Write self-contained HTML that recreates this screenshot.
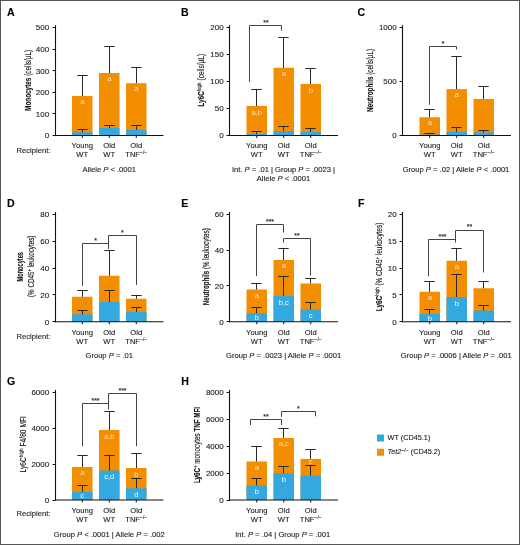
<!DOCTYPE html>
<html><head><meta charset="utf-8"><style>
html,body{margin:0;padding:0;background:#fff;}
body{width:520px;height:545px;overflow:hidden;}
.frame{position:absolute;left:0;top:0;width:518px;height:543px;border:1px solid #555;}
svg text{stroke-width:0.12px;}
svg{position:absolute;left:0;top:0;font-family:"Liberation Sans", sans-serif;will-change:transform;}
</style></head><body>
<div class="frame"></div>
<svg width="520" height="545" viewBox="0 0 520 545">
<text x="7" y="15.9" font-size="10.6" text-anchor="start" fill="#000" stroke="#000" font-weight="bold"  >A</text>
<rect x="72" y="96" width="20.5" height="39.5" fill="#F28E00"/>
<rect x="72" y="132.3" width="20.5" height="3.1999999999999886" fill="#33A9E0"/>
<line x1="82.5" y1="75.5" x2="82.5" y2="96" stroke="#2a2a2a" stroke-width="1"/>
<line x1="77.3" y1="75.5" x2="87.7" y2="75.5" stroke="#2a2a2a" stroke-width="1"/>
<line x1="82.5" y1="129.5" x2="82.5" y2="132.3" stroke="#2a2a2a" stroke-width="1"/>
<line x1="77.3" y1="129.5" x2="87.7" y2="129.5" stroke="#2a2a2a" stroke-width="1"/>
<text x="82.25" y="104.2" font-size="7.6" text-anchor="middle" fill="#fde2b4" stroke="#fde2b4" font-weight="normal"  style="stroke-width:0">a</text>
<line x1="82.25" y1="135.5" x2="82.25" y2="138.0" stroke="#111111" stroke-width="1"/>
<text x="82.25" y="148.1" font-size="7.6" text-anchor="middle" fill="#222" stroke="#222" font-weight="normal"  >Young</text>
<text x="82.25" y="157.25" font-size="7.6" text-anchor="middle" fill="#222" stroke="#222" font-weight="normal"  >WT</text>
<rect x="99" y="73" width="20.5" height="62.5" fill="#F28E00"/>
<rect x="99" y="128" width="20.5" height="7.5" fill="#33A9E0"/>
<line x1="109.5" y1="46.5" x2="109.5" y2="73" stroke="#2a2a2a" stroke-width="1"/>
<line x1="104.3" y1="46.5" x2="114.7" y2="46.5" stroke="#2a2a2a" stroke-width="1"/>
<line x1="109.5" y1="125.5" x2="109.5" y2="128" stroke="#2a2a2a" stroke-width="1"/>
<line x1="104.3" y1="125.5" x2="114.7" y2="125.5" stroke="#2a2a2a" stroke-width="1"/>
<text x="109.25" y="81.2" font-size="7.6" text-anchor="middle" fill="#fde2b4" stroke="#fde2b4" font-weight="normal"  style="stroke-width:0">a</text>
<line x1="109.25" y1="135.5" x2="109.25" y2="138.0" stroke="#111111" stroke-width="1"/>
<text x="109.25" y="148.1" font-size="7.6" text-anchor="middle" fill="#222" stroke="#222" font-weight="normal"  >Old</text>
<text x="109.25" y="157.25" font-size="7.6" text-anchor="middle" fill="#222" stroke="#222" font-weight="normal"  >WT</text>
<rect x="126" y="83.25" width="20.5" height="52.25" fill="#F28E00"/>
<rect x="126" y="130" width="20.5" height="5.5" fill="#33A9E0"/>
<line x1="136.5" y1="67.5" x2="136.5" y2="83.25" stroke="#2a2a2a" stroke-width="1"/>
<line x1="131.3" y1="67.5" x2="141.7" y2="67.5" stroke="#2a2a2a" stroke-width="1"/>
<line x1="136.5" y1="125.5" x2="136.5" y2="130" stroke="#2a2a2a" stroke-width="1"/>
<line x1="131.3" y1="125.5" x2="141.7" y2="125.5" stroke="#2a2a2a" stroke-width="1"/>
<text x="136.25" y="91.45" font-size="7.6" text-anchor="middle" fill="#fde2b4" stroke="#fde2b4" font-weight="normal"  style="stroke-width:0">a</text>
<line x1="136.25" y1="135.5" x2="136.25" y2="138.0" stroke="#111111" stroke-width="1"/>
<text x="136.25" y="148.1" font-size="7.6" text-anchor="middle" fill="#222" stroke="#222" font-weight="normal"  >Old</text>
<text x="136.25" y="157.25" font-size="7.6" text-anchor="middle" fill="#222" stroke="#222" font-weight="normal"  >TNF<tspan font-size="5" dy="-2.8">−/−</tspan></text>
<line x1="55.5" y1="25.2" x2="55.5" y2="136.1" stroke="#111111" stroke-width="1.1"/>
<line x1="54.9" y1="135.5" x2="163.5" y2="135.5" stroke="#111111" stroke-width="1.2"/>
<line x1="52.5" y1="27.5" x2="55.5" y2="27.5" stroke="#111111" stroke-width="1"/>
<text x="49.2" y="30.4" font-size="8.0" text-anchor="end" fill="#222" stroke="#222" font-weight="normal"  >500</text>
<line x1="52.5" y1="49.5" x2="55.5" y2="49.5" stroke="#111111" stroke-width="1"/>
<text x="49.2" y="52.0" font-size="8.0" text-anchor="end" fill="#222" stroke="#222" font-weight="normal"  >400</text>
<line x1="52.5" y1="70.5" x2="55.5" y2="70.5" stroke="#111111" stroke-width="1"/>
<text x="49.2" y="73.60000000000001" font-size="8.0" text-anchor="end" fill="#222" stroke="#222" font-weight="normal"  >300</text>
<line x1="52.5" y1="92.5" x2="55.5" y2="92.5" stroke="#111111" stroke-width="1"/>
<text x="49.2" y="95.2" font-size="8.0" text-anchor="end" fill="#222" stroke="#222" font-weight="normal"  >200</text>
<line x1="52.5" y1="113.5" x2="55.5" y2="113.5" stroke="#111111" stroke-width="1"/>
<text x="49.2" y="116.80000000000001" font-size="8.0" text-anchor="end" fill="#222" stroke="#222" font-weight="normal"  >100</text>
<line x1="52.5" y1="135.5" x2="55.5" y2="135.5" stroke="#111111" stroke-width="1"/>
<text x="49.2" y="138.4" font-size="8.0" text-anchor="end" fill="#222" stroke="#222" font-weight="normal"  >0</text>
<text transform="translate(30.6,80.4) rotate(-90)" font-size="8.6" text-anchor="middle" fill="#111" stroke="#111" textLength="61" lengthAdjust="spacingAndGlyphs"><tspan font-weight="bold">Monocytes</tspan> (cells/µL)</text>
<text x="109.25" y="172" font-size="7.6" text-anchor="middle" fill="#222" stroke="#222" font-weight="normal"  >Allele <tspan font-style="italic">P</tspan> &lt; .0001</text>
<text x="16.6" y="152.6" font-size="7.6" text-anchor="start" fill="#222" stroke="#222" font-weight="normal"  >Recipient:</text>
<text x="180.9" y="15.9" font-size="10.6" text-anchor="start" fill="#000" stroke="#000" font-weight="bold"  >B</text>
<rect x="246.5" y="106" width="20.5" height="29.5" fill="#F28E00"/>
<rect x="246.5" y="134" width="20.5" height="1.5" fill="#33A9E0"/>
<line x1="256.5" y1="89.5" x2="256.5" y2="106" stroke="#2a2a2a" stroke-width="1"/>
<line x1="251.3" y1="89.5" x2="261.7" y2="89.5" stroke="#2a2a2a" stroke-width="1"/>
<line x1="256.5" y1="131.5" x2="256.5" y2="134" stroke="#2a2a2a" stroke-width="1"/>
<line x1="251.3" y1="131.5" x2="261.7" y2="131.5" stroke="#2a2a2a" stroke-width="1"/>
<text x="256.75" y="114.9" font-size="7.6" text-anchor="middle" fill="#fde2b4" stroke="#fde2b4" font-weight="normal"  style="stroke-width:0">a,b</text>
<line x1="256.75" y1="135.5" x2="256.75" y2="138.0" stroke="#111111" stroke-width="1"/>
<text x="256.75" y="148.1" font-size="7.6" text-anchor="middle" fill="#222" stroke="#222" font-weight="normal"  >Young</text>
<text x="256.75" y="157.25" font-size="7.6" text-anchor="middle" fill="#222" stroke="#222" font-weight="normal"  >WT</text>
<rect x="273.5" y="67.75" width="20.5" height="67.75" fill="#F28E00"/>
<rect x="273.5" y="131.0" width="20.5" height="4.5" fill="#33A9E0"/>
<line x1="283.5" y1="37.5" x2="283.5" y2="67.75" stroke="#2a2a2a" stroke-width="1"/>
<line x1="278.3" y1="37.5" x2="288.7" y2="37.5" stroke="#2a2a2a" stroke-width="1"/>
<line x1="283.5" y1="126.5" x2="283.5" y2="131.0" stroke="#2a2a2a" stroke-width="1"/>
<line x1="278.3" y1="126.5" x2="288.7" y2="126.5" stroke="#2a2a2a" stroke-width="1"/>
<text x="283.75" y="75.95" font-size="7.6" text-anchor="middle" fill="#fde2b4" stroke="#fde2b4" font-weight="normal"  style="stroke-width:0">a</text>
<line x1="283.75" y1="135.5" x2="283.75" y2="138.0" stroke="#111111" stroke-width="1"/>
<text x="283.75" y="148.1" font-size="7.6" text-anchor="middle" fill="#222" stroke="#222" font-weight="normal"  >Old</text>
<text x="283.75" y="157.25" font-size="7.6" text-anchor="middle" fill="#222" stroke="#222" font-weight="normal"  >WT</text>
<rect x="300.5" y="84" width="20.5" height="51.5" fill="#F28E00"/>
<rect x="300.5" y="132.0" width="20.5" height="3.5" fill="#33A9E0"/>
<line x1="310.5" y1="68.5" x2="310.5" y2="84" stroke="#2a2a2a" stroke-width="1"/>
<line x1="305.3" y1="68.5" x2="315.7" y2="68.5" stroke="#2a2a2a" stroke-width="1"/>
<line x1="310.5" y1="128.5" x2="310.5" y2="132.0" stroke="#2a2a2a" stroke-width="1"/>
<line x1="305.3" y1="128.5" x2="315.7" y2="128.5" stroke="#2a2a2a" stroke-width="1"/>
<text x="310.75" y="92.9" font-size="7.6" text-anchor="middle" fill="#fde2b4" stroke="#fde2b4" font-weight="normal"  style="stroke-width:0">b</text>
<line x1="310.75" y1="135.5" x2="310.75" y2="138.0" stroke="#111111" stroke-width="1"/>
<text x="310.75" y="148.1" font-size="7.6" text-anchor="middle" fill="#222" stroke="#222" font-weight="normal"  >Old</text>
<text x="310.75" y="157.25" font-size="7.6" text-anchor="middle" fill="#222" stroke="#222" font-weight="normal"  >TNF<tspan font-size="5" dy="-2.8">−/−</tspan></text>
<line x1="229.5" y1="25.2" x2="229.5" y2="136.1" stroke="#111111" stroke-width="1.1"/>
<line x1="228.9" y1="135.5" x2="338.0" y2="135.5" stroke="#111111" stroke-width="1.2"/>
<line x1="226.5" y1="27.5" x2="229.5" y2="27.5" stroke="#111111" stroke-width="1"/>
<text x="223.7" y="30.4" font-size="8.0" text-anchor="end" fill="#222" stroke="#222" font-weight="normal"  >200</text>
<line x1="226.5" y1="54.5" x2="229.5" y2="54.5" stroke="#111111" stroke-width="1"/>
<text x="223.7" y="57.4" font-size="8.0" text-anchor="end" fill="#222" stroke="#222" font-weight="normal"  >150</text>
<line x1="226.5" y1="81.5" x2="229.5" y2="81.5" stroke="#111111" stroke-width="1"/>
<text x="223.7" y="84.4" font-size="8.0" text-anchor="end" fill="#222" stroke="#222" font-weight="normal"  >100</text>
<line x1="226.5" y1="108.5" x2="229.5" y2="108.5" stroke="#111111" stroke-width="1"/>
<text x="223.7" y="111.4" font-size="8.0" text-anchor="end" fill="#222" stroke="#222" font-weight="normal"  >50</text>
<line x1="226.5" y1="135.5" x2="229.5" y2="135.5" stroke="#111111" stroke-width="1"/>
<text x="223.7" y="138.4" font-size="8.0" text-anchor="end" fill="#222" stroke="#222" font-weight="normal"  >0</text>
<polyline points="249.5,81.9 249.5,25.5 281.5,25.5 281.5,30.6" fill="none" stroke="#444444" stroke-width="1"/>
<text x="266.0" y="25.0" font-size="7" text-anchor="middle" fill="#222" stroke="#222" font-weight="normal"  >**</text>
<text transform="translate(204,80.3) rotate(-90)" font-size="8.6" text-anchor="middle" fill="#111" stroke="#111" textLength="53" lengthAdjust="spacingAndGlyphs"><tspan font-weight="bold">Ly6C</tspan><tspan font-size="6" dy="-3">high</tspan><tspan dy="3"> (cells/µL)</tspan></text>
<text x="283.5" y="172" font-size="7.6" text-anchor="middle" fill="#222" stroke="#222" font-weight="normal"  >Int. <tspan font-style="italic">P</tspan> = .01 | Group <tspan font-style="italic">P</tspan> = .0023 |</text>
<text x="283.5" y="180.7" font-size="7.6" text-anchor="middle" fill="#222" stroke="#222" font-weight="normal"  >Allele <tspan font-style="italic">P</tspan> &lt; .0001</text>
<text x="357.5" y="15.9" font-size="10.6" text-anchor="start" fill="#000" stroke="#000" font-weight="bold"  >C</text>
<rect x="419.5" y="117.25" width="20.5" height="18.25" fill="#F28E00"/>
<rect x="419.5" y="134.5" width="20.5" height="1.0" fill="#33A9E0"/>
<line x1="429.5" y1="109.5" x2="429.5" y2="117.25" stroke="#2a2a2a" stroke-width="1"/>
<line x1="424.3" y1="109.5" x2="434.7" y2="109.5" stroke="#2a2a2a" stroke-width="1"/>
<line x1="429.5" y1="133.5" x2="429.5" y2="134.5" stroke="#2a2a2a" stroke-width="1"/>
<line x1="424.3" y1="133.5" x2="434.7" y2="133.5" stroke="#2a2a2a" stroke-width="1"/>
<text x="429.75" y="125.45" font-size="7.6" text-anchor="middle" fill="#fde2b4" stroke="#fde2b4" font-weight="normal"  style="stroke-width:0">a</text>
<line x1="429.75" y1="135.5" x2="429.75" y2="138.0" stroke="#111111" stroke-width="1"/>
<text x="429.75" y="148.1" font-size="7.6" text-anchor="middle" fill="#222" stroke="#222" font-weight="normal"  >Young</text>
<text x="429.75" y="157.25" font-size="7.6" text-anchor="middle" fill="#222" stroke="#222" font-weight="normal"  >WT</text>
<rect x="446.5" y="89.1" width="20.5" height="46.400000000000006" fill="#F28E00"/>
<rect x="446.5" y="131.9" width="20.5" height="3.5999999999999943" fill="#33A9E0"/>
<line x1="456.5" y1="56.5" x2="456.5" y2="89.1" stroke="#2a2a2a" stroke-width="1"/>
<line x1="451.3" y1="56.5" x2="461.7" y2="56.5" stroke="#2a2a2a" stroke-width="1"/>
<line x1="456.5" y1="127.5" x2="456.5" y2="131.9" stroke="#2a2a2a" stroke-width="1"/>
<line x1="451.3" y1="127.5" x2="461.7" y2="127.5" stroke="#2a2a2a" stroke-width="1"/>
<text x="456.75" y="97.3" font-size="7.6" text-anchor="middle" fill="#fde2b4" stroke="#fde2b4" font-weight="normal"  style="stroke-width:0">a</text>
<line x1="456.75" y1="135.5" x2="456.75" y2="138.0" stroke="#111111" stroke-width="1"/>
<text x="456.75" y="148.1" font-size="7.6" text-anchor="middle" fill="#222" stroke="#222" font-weight="normal"  >Old</text>
<text x="456.75" y="157.25" font-size="7.6" text-anchor="middle" fill="#222" stroke="#222" font-weight="normal"  >WT</text>
<rect x="473.5" y="99" width="20.5" height="36.5" fill="#F28E00"/>
<rect x="473.5" y="132.5" width="20.5" height="3.0" fill="#33A9E0"/>
<line x1="483.5" y1="86.5" x2="483.5" y2="99" stroke="#2a2a2a" stroke-width="1"/>
<line x1="478.3" y1="86.5" x2="488.7" y2="86.5" stroke="#2a2a2a" stroke-width="1"/>
<line x1="483.5" y1="130.5" x2="483.5" y2="132.5" stroke="#2a2a2a" stroke-width="1"/>
<line x1="478.3" y1="130.5" x2="488.7" y2="130.5" stroke="#2a2a2a" stroke-width="1"/>
<line x1="483.75" y1="135.5" x2="483.75" y2="138.0" stroke="#111111" stroke-width="1"/>
<text x="483.75" y="148.1" font-size="7.6" text-anchor="middle" fill="#222" stroke="#222" font-weight="normal"  >Old</text>
<text x="483.75" y="157.25" font-size="7.6" text-anchor="middle" fill="#222" stroke="#222" font-weight="normal"  >TNF<tspan font-size="5" dy="-2.8">−/−</tspan></text>
<line x1="402.5" y1="25.2" x2="402.5" y2="136.1" stroke="#111111" stroke-width="1.1"/>
<line x1="401.9" y1="135.5" x2="511.0" y2="135.5" stroke="#111111" stroke-width="1.2"/>
<line x1="399.5" y1="27.5" x2="402.5" y2="27.5" stroke="#111111" stroke-width="1"/>
<text x="396.7" y="30.4" font-size="8.0" text-anchor="end" fill="#222" stroke="#222" font-weight="normal"  >1000</text>
<line x1="399.5" y1="81.5" x2="402.5" y2="81.5" stroke="#111111" stroke-width="1"/>
<text x="396.7" y="84.4" font-size="8.0" text-anchor="end" fill="#222" stroke="#222" font-weight="normal"  >500</text>
<line x1="399.5" y1="135.5" x2="402.5" y2="135.5" stroke="#111111" stroke-width="1"/>
<text x="396.7" y="138.4" font-size="8.0" text-anchor="end" fill="#222" stroke="#222" font-weight="normal"  >0</text>
<polyline points="429.5,104.75 429.5,46.5 456.5,46.5 456.5,49.5" fill="none" stroke="#444444" stroke-width="1"/>
<text x="443" y="45.699999999999996" font-size="7" text-anchor="middle" fill="#222" stroke="#222" font-weight="normal"  >*</text>
<text transform="translate(373,80.4) rotate(-90)" font-size="8.6" text-anchor="middle" fill="#111" stroke="#111" textLength="63" lengthAdjust="spacingAndGlyphs"><tspan font-weight="bold">Neutrophils</tspan> (cells/µL)</text>
<text x="456" y="171.5" font-size="7.6" text-anchor="middle" fill="#222" stroke="#222" font-weight="normal"  >Group <tspan font-style="italic">P</tspan> = .02 | Allele <tspan font-style="italic">P</tspan> &lt; .0001</text>
<text x="7" y="207.1" font-size="10.6" text-anchor="start" fill="#000" stroke="#000" font-weight="bold"  >D</text>
<rect x="72" y="296.75" width="20.5" height="25.0" fill="#F28E00"/>
<rect x="72" y="314.25" width="20.5" height="7.5" fill="#33A9E0"/>
<line x1="82.5" y1="290.5" x2="82.5" y2="296.75" stroke="#2a2a2a" stroke-width="1"/>
<line x1="77.3" y1="290.5" x2="87.7" y2="290.5" stroke="#2a2a2a" stroke-width="1"/>
<line x1="82.5" y1="310.5" x2="82.5" y2="314.25" stroke="#2a2a2a" stroke-width="1"/>
<line x1="77.3" y1="310.5" x2="87.7" y2="310.5" stroke="#2a2a2a" stroke-width="1"/>
<line x1="82.25" y1="321.75" x2="82.25" y2="324.25" stroke="#111111" stroke-width="1"/>
<text x="82.25" y="334.55" font-size="7.6" text-anchor="middle" fill="#222" stroke="#222" font-weight="normal"  >Young</text>
<text x="82.25" y="343.7" font-size="7.6" text-anchor="middle" fill="#222" stroke="#222" font-weight="normal"  >WT</text>
<rect x="99" y="275.75" width="20.5" height="46.0" fill="#F28E00"/>
<rect x="99" y="302" width="20.5" height="19.75" fill="#33A9E0"/>
<line x1="109.5" y1="250.5" x2="109.5" y2="275.75" stroke="#2a2a2a" stroke-width="1"/>
<line x1="104.3" y1="250.5" x2="114.7" y2="250.5" stroke="#2a2a2a" stroke-width="1"/>
<line x1="109.5" y1="290.5" x2="109.5" y2="302" stroke="#2a2a2a" stroke-width="1"/>
<line x1="104.3" y1="290.5" x2="114.7" y2="290.5" stroke="#2a2a2a" stroke-width="1"/>
<line x1="109.25" y1="321.75" x2="109.25" y2="324.25" stroke="#111111" stroke-width="1"/>
<text x="109.25" y="334.55" font-size="7.6" text-anchor="middle" fill="#222" stroke="#222" font-weight="normal"  >Old</text>
<text x="109.25" y="343.7" font-size="7.6" text-anchor="middle" fill="#222" stroke="#222" font-weight="normal"  >WT</text>
<rect x="126" y="298.75" width="20.5" height="23.0" fill="#F28E00"/>
<rect x="126" y="312" width="20.5" height="9.75" fill="#33A9E0"/>
<line x1="136.5" y1="295.5" x2="136.5" y2="298.75" stroke="#2a2a2a" stroke-width="1"/>
<line x1="131.3" y1="295.5" x2="141.7" y2="295.5" stroke="#2a2a2a" stroke-width="1"/>
<line x1="136.5" y1="307.5" x2="136.5" y2="312" stroke="#2a2a2a" stroke-width="1"/>
<line x1="131.3" y1="307.5" x2="141.7" y2="307.5" stroke="#2a2a2a" stroke-width="1"/>
<line x1="136.25" y1="321.75" x2="136.25" y2="324.25" stroke="#111111" stroke-width="1"/>
<text x="136.25" y="334.55" font-size="7.6" text-anchor="middle" fill="#222" stroke="#222" font-weight="normal"  >Old</text>
<text x="136.25" y="343.7" font-size="7.6" text-anchor="middle" fill="#222" stroke="#222" font-weight="normal"  >TNF<tspan font-size="5" dy="-2.8">−/−</tspan></text>
<line x1="55.5" y1="211.95" x2="55.5" y2="322.35" stroke="#111111" stroke-width="1.1"/>
<line x1="54.9" y1="321.75" x2="163.5" y2="321.75" stroke="#111111" stroke-width="1.2"/>
<line x1="52.5" y1="214.5" x2="55.5" y2="214.5" stroke="#111111" stroke-width="1"/>
<text x="49.2" y="217.15" font-size="8.0" text-anchor="end" fill="#222" stroke="#222" font-weight="normal"  >80</text>
<line x1="52.5" y1="241.5" x2="55.5" y2="241.5" stroke="#111111" stroke-width="1"/>
<text x="49.2" y="244.025" font-size="8.0" text-anchor="end" fill="#222" stroke="#222" font-weight="normal"  >60</text>
<line x1="52.5" y1="268.5" x2="55.5" y2="268.5" stroke="#111111" stroke-width="1"/>
<text x="49.2" y="270.9" font-size="8.0" text-anchor="end" fill="#222" stroke="#222" font-weight="normal"  >40</text>
<line x1="52.5" y1="294.5" x2="55.5" y2="294.5" stroke="#111111" stroke-width="1"/>
<text x="49.2" y="297.775" font-size="8.0" text-anchor="end" fill="#222" stroke="#222" font-weight="normal"  >20</text>
<line x1="52.5" y1="321.5" x2="55.5" y2="321.5" stroke="#111111" stroke-width="1"/>
<text x="49.2" y="324.65" font-size="8.0" text-anchor="end" fill="#222" stroke="#222" font-weight="normal"  >0</text>
<polyline points="82.5,286 82.5,243.5 108.5,243.5 108.5,249" fill="none" stroke="#444444" stroke-width="1"/>
<text x="95.5" y="243.0" font-size="7" text-anchor="middle" fill="#222" stroke="#222" font-weight="normal"  >*</text>
<polyline points="108.5,246 108.5,235.5 136.5,235.5 136.5,285" fill="none" stroke="#444444" stroke-width="1"/>
<text x="122.3" y="234.9" font-size="7" text-anchor="middle" fill="#222" stroke="#222" font-weight="normal"  >*</text>
<text transform="translate(23,266.8) rotate(-90)" font-size="8.6" text-anchor="middle" fill="#111" stroke="#111" textLength="29.4" lengthAdjust="spacingAndGlyphs"><tspan font-weight="bold">Monocytes</tspan></text>
<text transform="translate(33.5,266.3) rotate(-90)" font-size="8.6" text-anchor="middle" fill="#111" stroke="#111" textLength="61.4" lengthAdjust="spacingAndGlyphs">(% CD45<tspan font-size="6" dy="-3">+</tspan><tspan dy="3"> leukocytes)</tspan></text>
<text x="109.25" y="358.4" font-size="7.6" text-anchor="middle" fill="#222" stroke="#222" font-weight="normal"  >Group <tspan font-style="italic">P</tspan> = .01</text>
<text x="16.6" y="338.9" font-size="7.6" text-anchor="start" fill="#222" stroke="#222" font-weight="normal"  >Recipient:</text>
<text x="181.2" y="207.1" font-size="10.6" text-anchor="start" fill="#000" stroke="#000" font-weight="bold"  >E</text>
<rect x="246.5" y="289.5" width="20.5" height="32.25" fill="#F28E00"/>
<rect x="246.5" y="313.2" width="20.5" height="8.550000000000011" fill="#33A9E0"/>
<line x1="256.5" y1="283.5" x2="256.5" y2="289.5" stroke="#2a2a2a" stroke-width="1"/>
<line x1="251.3" y1="283.5" x2="261.7" y2="283.5" stroke="#2a2a2a" stroke-width="1"/>
<line x1="256.5" y1="307.5" x2="256.5" y2="313.2" stroke="#2a2a2a" stroke-width="1"/>
<line x1="251.3" y1="307.5" x2="261.7" y2="307.5" stroke="#2a2a2a" stroke-width="1"/>
<text x="256.75" y="297.7" font-size="7.6" text-anchor="middle" fill="#fde2b4" stroke="#fde2b4" font-weight="normal"  style="stroke-width:0">a</text>
<text x="256.75" y="320.175" font-size="7.6" text-anchor="middle" fill="#f6fbfe" stroke="#f6fbfe" font-weight="normal"  style="stroke-width:0">b</text>
<line x1="256.75" y1="321.75" x2="256.75" y2="324.25" stroke="#111111" stroke-width="1"/>
<text x="256.75" y="334.55" font-size="7.6" text-anchor="middle" fill="#222" stroke="#222" font-weight="normal"  >Young</text>
<text x="256.75" y="343.7" font-size="7.6" text-anchor="middle" fill="#222" stroke="#222" font-weight="normal"  >WT</text>
<rect x="273.5" y="260" width="20.5" height="61.75" fill="#F28E00"/>
<rect x="273.5" y="295.75" width="20.5" height="26.0" fill="#33A9E0"/>
<line x1="283.5" y1="248.5" x2="283.5" y2="260" stroke="#2a2a2a" stroke-width="1"/>
<line x1="278.3" y1="248.5" x2="288.7" y2="248.5" stroke="#2a2a2a" stroke-width="1"/>
<line x1="283.5" y1="276.5" x2="283.5" y2="295.75" stroke="#2a2a2a" stroke-width="1"/>
<line x1="278.3" y1="276.5" x2="288.7" y2="276.5" stroke="#2a2a2a" stroke-width="1"/>
<text x="283.75" y="268.2" font-size="7.6" text-anchor="middle" fill="#fde2b4" stroke="#fde2b4" font-weight="normal"  style="stroke-width:0">a</text>
<text x="283.75" y="304.65" font-size="7.6" text-anchor="middle" fill="#f6fbfe" stroke="#f6fbfe" font-weight="normal"  style="stroke-width:0">b,c</text>
<line x1="283.75" y1="321.75" x2="283.75" y2="324.25" stroke="#111111" stroke-width="1"/>
<text x="283.75" y="334.55" font-size="7.6" text-anchor="middle" fill="#222" stroke="#222" font-weight="normal"  >Old</text>
<text x="283.75" y="343.7" font-size="7.6" text-anchor="middle" fill="#222" stroke="#222" font-weight="normal"  >WT</text>
<rect x="300.5" y="283.5" width="20.5" height="38.25" fill="#F28E00"/>
<rect x="300.5" y="309.5" width="20.5" height="12.25" fill="#33A9E0"/>
<line x1="310.5" y1="278.5" x2="310.5" y2="283.5" stroke="#2a2a2a" stroke-width="1"/>
<line x1="305.3" y1="278.5" x2="315.7" y2="278.5" stroke="#2a2a2a" stroke-width="1"/>
<line x1="310.5" y1="302.5" x2="310.5" y2="309.5" stroke="#2a2a2a" stroke-width="1"/>
<line x1="305.3" y1="302.5" x2="315.7" y2="302.5" stroke="#2a2a2a" stroke-width="1"/>
<text x="310.75" y="317.625" font-size="7.6" text-anchor="middle" fill="#f6fbfe" stroke="#f6fbfe" font-weight="normal"  style="stroke-width:0">c</text>
<line x1="310.75" y1="321.75" x2="310.75" y2="324.25" stroke="#111111" stroke-width="1"/>
<text x="310.75" y="334.55" font-size="7.6" text-anchor="middle" fill="#222" stroke="#222" font-weight="normal"  >Old</text>
<text x="310.75" y="343.7" font-size="7.6" text-anchor="middle" fill="#222" stroke="#222" font-weight="normal"  >TNF<tspan font-size="5" dy="-2.8">−/−</tspan></text>
<line x1="229.5" y1="211.95" x2="229.5" y2="322.35" stroke="#111111" stroke-width="1.1"/>
<line x1="228.9" y1="321.75" x2="338.0" y2="321.75" stroke="#111111" stroke-width="1.2"/>
<line x1="226.5" y1="214.5" x2="229.5" y2="214.5" stroke="#111111" stroke-width="1"/>
<text x="223.7" y="217.15" font-size="8.0" text-anchor="end" fill="#222" stroke="#222" font-weight="normal"  >60</text>
<line x1="226.5" y1="250.5" x2="229.5" y2="250.5" stroke="#111111" stroke-width="1"/>
<text x="223.7" y="252.98333333333335" font-size="8.0" text-anchor="end" fill="#222" stroke="#222" font-weight="normal"  >40</text>
<line x1="226.5" y1="285.5" x2="229.5" y2="285.5" stroke="#111111" stroke-width="1"/>
<text x="223.7" y="288.81666666666666" font-size="8.0" text-anchor="end" fill="#222" stroke="#222" font-weight="normal"  >20</text>
<line x1="226.5" y1="321.5" x2="229.5" y2="321.5" stroke="#111111" stroke-width="1"/>
<text x="223.7" y="324.65" font-size="8.0" text-anchor="end" fill="#222" stroke="#222" font-weight="normal"  >0</text>
<polyline points="256.5,276 256.5,224.5 283.5,224.5 283.5,232.5" fill="none" stroke="#444444" stroke-width="1"/>
<text x="270" y="223.6" font-size="7" text-anchor="middle" fill="#222" stroke="#222" font-weight="normal"  >***</text>
<polyline points="283.5,242.5 283.5,238.5 310.5,238.5 310.5,275.5" fill="none" stroke="#444444" stroke-width="1"/>
<text x="297" y="237.6" font-size="7" text-anchor="middle" fill="#222" stroke="#222" font-weight="normal"  >**</text>
<text transform="translate(208.5,266.8) rotate(-90)" font-size="8.6" text-anchor="middle" fill="#111" stroke="#111" textLength="77" lengthAdjust="spacingAndGlyphs"><tspan font-weight="bold">Neutrophils</tspan> (% leukocytes)</text>
<text x="283.7" y="358.4" font-size="7.6" text-anchor="middle" fill="#222" stroke="#222" font-weight="normal"  >Group <tspan font-style="italic">P</tspan> = .0023 | Allele <tspan font-style="italic">P</tspan> = .0001</text>
<text x="358" y="207.1" font-size="10.6" text-anchor="start" fill="#000" stroke="#000" font-weight="bold"  >F</text>
<rect x="419.5" y="291.75" width="20.5" height="30.0" fill="#F28E00"/>
<rect x="419.5" y="314" width="20.5" height="7.75" fill="#33A9E0"/>
<line x1="429.5" y1="281.5" x2="429.5" y2="291.75" stroke="#2a2a2a" stroke-width="1"/>
<line x1="424.3" y1="281.5" x2="434.7" y2="281.5" stroke="#2a2a2a" stroke-width="1"/>
<line x1="429.5" y1="309.5" x2="429.5" y2="314" stroke="#2a2a2a" stroke-width="1"/>
<line x1="424.3" y1="309.5" x2="434.7" y2="309.5" stroke="#2a2a2a" stroke-width="1"/>
<text x="429.75" y="299.95" font-size="7.6" text-anchor="middle" fill="#fde2b4" stroke="#fde2b4" font-weight="normal"  style="stroke-width:0">a</text>
<text x="429.75" y="320.575" font-size="7.6" text-anchor="middle" fill="#f6fbfe" stroke="#f6fbfe" font-weight="normal"  style="stroke-width:0">b</text>
<line x1="429.75" y1="321.75" x2="429.75" y2="324.25" stroke="#111111" stroke-width="1"/>
<text x="429.75" y="334.55" font-size="7.6" text-anchor="middle" fill="#222" stroke="#222" font-weight="normal"  >Young</text>
<text x="429.75" y="343.7" font-size="7.6" text-anchor="middle" fill="#222" stroke="#222" font-weight="normal"  >WT</text>
<rect x="446.5" y="260.75" width="20.5" height="61.0" fill="#F28E00"/>
<rect x="446.5" y="297" width="20.5" height="24.75" fill="#33A9E0"/>
<line x1="456.5" y1="248.5" x2="456.5" y2="260.75" stroke="#2a2a2a" stroke-width="1"/>
<line x1="451.3" y1="248.5" x2="461.7" y2="248.5" stroke="#2a2a2a" stroke-width="1"/>
<line x1="456.5" y1="274.5" x2="456.5" y2="297" stroke="#2a2a2a" stroke-width="1"/>
<line x1="451.3" y1="274.5" x2="461.7" y2="274.5" stroke="#2a2a2a" stroke-width="1"/>
<text x="456.75" y="268.95" font-size="7.6" text-anchor="middle" fill="#fde2b4" stroke="#fde2b4" font-weight="normal"  style="stroke-width:0">a</text>
<text x="456.75" y="305.9" font-size="7.6" text-anchor="middle" fill="#f6fbfe" stroke="#f6fbfe" font-weight="normal"  style="stroke-width:0">b</text>
<line x1="456.75" y1="321.75" x2="456.75" y2="324.25" stroke="#111111" stroke-width="1"/>
<text x="456.75" y="334.55" font-size="7.6" text-anchor="middle" fill="#222" stroke="#222" font-weight="normal"  >Old</text>
<text x="456.75" y="343.7" font-size="7.6" text-anchor="middle" fill="#222" stroke="#222" font-weight="normal"  >WT</text>
<rect x="473.5" y="288.25" width="20.5" height="33.5" fill="#F28E00"/>
<rect x="473.5" y="310.5" width="20.5" height="11.25" fill="#33A9E0"/>
<line x1="483.5" y1="281.5" x2="483.5" y2="288.25" stroke="#2a2a2a" stroke-width="1"/>
<line x1="478.3" y1="281.5" x2="488.7" y2="281.5" stroke="#2a2a2a" stroke-width="1"/>
<line x1="483.5" y1="305.5" x2="483.5" y2="310.5" stroke="#2a2a2a" stroke-width="1"/>
<line x1="478.3" y1="305.5" x2="488.7" y2="305.5" stroke="#2a2a2a" stroke-width="1"/>
<line x1="483.75" y1="321.75" x2="483.75" y2="324.25" stroke="#111111" stroke-width="1"/>
<text x="483.75" y="334.55" font-size="7.6" text-anchor="middle" fill="#222" stroke="#222" font-weight="normal"  >Old</text>
<text x="483.75" y="343.7" font-size="7.6" text-anchor="middle" fill="#222" stroke="#222" font-weight="normal"  >TNF<tspan font-size="5" dy="-2.8">−/−</tspan></text>
<line x1="402.5" y1="211.95" x2="402.5" y2="322.35" stroke="#111111" stroke-width="1.1"/>
<line x1="401.9" y1="321.75" x2="511.0" y2="321.75" stroke="#111111" stroke-width="1.2"/>
<line x1="399.5" y1="214.5" x2="402.5" y2="214.5" stroke="#111111" stroke-width="1"/>
<text x="396.7" y="217.15" font-size="8.0" text-anchor="end" fill="#222" stroke="#222" font-weight="normal"  >20</text>
<line x1="399.5" y1="241.5" x2="402.5" y2="241.5" stroke="#111111" stroke-width="1"/>
<text x="396.7" y="244.025" font-size="8.0" text-anchor="end" fill="#222" stroke="#222" font-weight="normal"  >15</text>
<line x1="399.5" y1="268.5" x2="402.5" y2="268.5" stroke="#111111" stroke-width="1"/>
<text x="396.7" y="270.9" font-size="8.0" text-anchor="end" fill="#222" stroke="#222" font-weight="normal"  >10</text>
<line x1="399.5" y1="294.5" x2="402.5" y2="294.5" stroke="#111111" stroke-width="1"/>
<text x="396.7" y="297.775" font-size="8.0" text-anchor="end" fill="#222" stroke="#222" font-weight="normal"  >5</text>
<line x1="399.5" y1="321.5" x2="402.5" y2="321.5" stroke="#111111" stroke-width="1"/>
<text x="396.7" y="324.65" font-size="8.0" text-anchor="end" fill="#222" stroke="#222" font-weight="normal"  >0</text>
<polyline points="428.5,276.25 428.5,239.5 455.5,239.5 455.5,242.5" fill="none" stroke="#444444" stroke-width="1"/>
<text x="442.5" y="238.9" font-size="7" text-anchor="middle" fill="#222" stroke="#222" font-weight="normal"  >***</text>
<polyline points="455.5,240 455.5,230.5 483.5,230.5 483.5,272.5" fill="none" stroke="#444444" stroke-width="1"/>
<text x="469.5" y="229.4" font-size="7" text-anchor="middle" fill="#222" stroke="#222" font-weight="normal"  >**</text>
<text transform="translate(382.3,267) rotate(-90)" font-size="8.6" text-anchor="middle" fill="#111" stroke="#111" textLength="88.6" lengthAdjust="spacingAndGlyphs"><tspan font-weight="bold">Ly6C</tspan><tspan font-size="6" dy="-3">high</tspan><tspan dy="3"> (% CD45</tspan><tspan font-size="6" dy="-3">+</tspan><tspan dy="3"> leukocytes)</tspan></text>
<text x="456.3" y="358.4" font-size="7.6" text-anchor="middle" fill="#222" stroke="#222" font-weight="normal"  >Group <tspan font-style="italic">P</tspan> = .0006 | Allele <tspan font-style="italic">P</tspan> = .001</text>
<text x="7" y="384.5" font-size="10.6" text-anchor="start" fill="#000" stroke="#000" font-weight="bold"  >G</text>
<rect x="72" y="467" width="20.5" height="33.0" fill="#F28E00"/>
<rect x="72" y="491.75" width="20.5" height="8.25" fill="#33A9E0"/>
<line x1="82.5" y1="455.5" x2="82.5" y2="467" stroke="#2a2a2a" stroke-width="1"/>
<line x1="77.3" y1="455.5" x2="87.7" y2="455.5" stroke="#2a2a2a" stroke-width="1"/>
<line x1="82.5" y1="485.5" x2="82.5" y2="491.75" stroke="#2a2a2a" stroke-width="1"/>
<line x1="77.3" y1="485.5" x2="87.7" y2="485.5" stroke="#2a2a2a" stroke-width="1"/>
<text x="82.25" y="475.2" font-size="7.6" text-anchor="middle" fill="#fde2b4" stroke="#fde2b4" font-weight="normal"  style="stroke-width:0">a</text>
<text x="82.25" y="497.875" font-size="7.6" text-anchor="middle" fill="#f6fbfe" stroke="#f6fbfe" font-weight="normal"  style="stroke-width:0">c</text>
<line x1="82.25" y1="500.0" x2="82.25" y2="502.5" stroke="#111111" stroke-width="1"/>
<text x="82.25" y="512.6" font-size="7.6" text-anchor="middle" fill="#222" stroke="#222" font-weight="normal"  >Young</text>
<text x="82.25" y="521.75" font-size="7.6" text-anchor="middle" fill="#222" stroke="#222" font-weight="normal"  >WT</text>
<rect x="99" y="430" width="20.5" height="70.0" fill="#F28E00"/>
<rect x="99" y="470.5" width="20.5" height="29.5" fill="#33A9E0"/>
<line x1="109.5" y1="411.5" x2="109.5" y2="430" stroke="#2a2a2a" stroke-width="1"/>
<line x1="104.3" y1="411.5" x2="114.7" y2="411.5" stroke="#2a2a2a" stroke-width="1"/>
<line x1="109.5" y1="455.5" x2="109.5" y2="470.5" stroke="#2a2a2a" stroke-width="1"/>
<line x1="104.3" y1="455.5" x2="114.7" y2="455.5" stroke="#2a2a2a" stroke-width="1"/>
<text x="109.25" y="438.9" font-size="7.6" text-anchor="middle" fill="#fde2b4" stroke="#fde2b4" font-weight="normal"  style="stroke-width:0">a,b</text>
<text x="109.25" y="479.4" font-size="7.6" text-anchor="middle" fill="#f6fbfe" stroke="#f6fbfe" font-weight="normal"  style="stroke-width:0">c,d</text>
<line x1="109.25" y1="500.0" x2="109.25" y2="502.5" stroke="#111111" stroke-width="1"/>
<text x="109.25" y="512.6" font-size="7.6" text-anchor="middle" fill="#222" stroke="#222" font-weight="normal"  >Old</text>
<text x="109.25" y="521.75" font-size="7.6" text-anchor="middle" fill="#222" stroke="#222" font-weight="normal"  >WT</text>
<rect x="126" y="468" width="20.5" height="32.0" fill="#F28E00"/>
<rect x="126" y="488.25" width="20.5" height="11.75" fill="#33A9E0"/>
<line x1="136.5" y1="453.5" x2="136.5" y2="468" stroke="#2a2a2a" stroke-width="1"/>
<line x1="131.3" y1="453.5" x2="141.7" y2="453.5" stroke="#2a2a2a" stroke-width="1"/>
<line x1="136.5" y1="478.5" x2="136.5" y2="488.25" stroke="#2a2a2a" stroke-width="1"/>
<line x1="131.3" y1="478.5" x2="141.7" y2="478.5" stroke="#2a2a2a" stroke-width="1"/>
<text x="136.25" y="476.9" font-size="7.6" text-anchor="middle" fill="#fde2b4" stroke="#fde2b4" font-weight="normal"  style="stroke-width:0">b</text>
<text x="136.25" y="496.825" font-size="7.6" text-anchor="middle" fill="#f6fbfe" stroke="#f6fbfe" font-weight="normal"  style="stroke-width:0">d</text>
<line x1="136.25" y1="500.0" x2="136.25" y2="502.5" stroke="#111111" stroke-width="1"/>
<text x="136.25" y="512.6" font-size="7.6" text-anchor="middle" fill="#222" stroke="#222" font-weight="normal"  >Old</text>
<text x="136.25" y="521.75" font-size="7.6" text-anchor="middle" fill="#222" stroke="#222" font-weight="normal"  >TNF<tspan font-size="5" dy="-2.8">−/−</tspan></text>
<line x1="55.5" y1="389.95" x2="55.5" y2="500.6" stroke="#111111" stroke-width="1.1"/>
<line x1="54.9" y1="500.0" x2="163.5" y2="500.0" stroke="#111111" stroke-width="1.2"/>
<line x1="52.5" y1="392.5" x2="55.5" y2="392.5" stroke="#111111" stroke-width="1"/>
<text x="49.2" y="395.15" font-size="8.0" text-anchor="end" fill="#222" stroke="#222" font-weight="normal"  >6000</text>
<line x1="52.5" y1="428.5" x2="55.5" y2="428.5" stroke="#111111" stroke-width="1"/>
<text x="49.2" y="431.06666666666666" font-size="8.0" text-anchor="end" fill="#222" stroke="#222" font-weight="normal"  >4000</text>
<line x1="52.5" y1="464.5" x2="55.5" y2="464.5" stroke="#111111" stroke-width="1"/>
<text x="49.2" y="466.9833333333333" font-size="8.0" text-anchor="end" fill="#222" stroke="#222" font-weight="normal"  >2000</text>
<line x1="52.5" y1="500.5" x2="55.5" y2="500.5" stroke="#111111" stroke-width="1"/>
<text x="49.2" y="502.9" font-size="8.0" text-anchor="end" fill="#222" stroke="#222" font-weight="normal"  >0</text>
<polyline points="82.5,446.25 82.5,403.5 108.5,403.5 108.5,409.5" fill="none" stroke="#444444" stroke-width="1"/>
<text x="95.5" y="402.79999999999995" font-size="7" text-anchor="middle" fill="#222" stroke="#222" font-weight="normal"  >***</text>
<polyline points="108.5,405 108.5,393.5 136.5,393.5 136.5,446.25" fill="none" stroke="#444444" stroke-width="1"/>
<text x="122.5" y="393.2" font-size="7" text-anchor="middle" fill="#222" stroke="#222" font-weight="normal"  >***</text>
<text transform="translate(25.5,444.3) rotate(-90)" font-size="8.6" text-anchor="middle" fill="#111" stroke="#111" textLength="56.4" lengthAdjust="spacingAndGlyphs">Ly6C<tspan font-size="6" dy="-3">high</tspan><tspan dy="3"> F4/80 MFI</tspan></text>
<text x="109.25" y="536.5" font-size="7.6" text-anchor="middle" fill="#222" stroke="#222" font-weight="normal"  >Group <tspan font-style="italic">P</tspan> &lt; .0001 | Allele <tspan font-style="italic">P</tspan> = .002</text>
<text x="16.6" y="515.7" font-size="7.6" text-anchor="start" fill="#222" stroke="#222" font-weight="normal"  >Recipient:</text>
<text x="181.2" y="384.5" font-size="10.6" text-anchor="start" fill="#000" stroke="#000" font-weight="bold"  >H</text>
<rect x="246.5" y="461.5" width="20.5" height="38.5" fill="#F28E00"/>
<rect x="246.5" y="485.5" width="20.5" height="14.5" fill="#33A9E0"/>
<line x1="256.5" y1="446.5" x2="256.5" y2="461.5" stroke="#2a2a2a" stroke-width="1"/>
<line x1="251.3" y1="446.5" x2="261.7" y2="446.5" stroke="#2a2a2a" stroke-width="1"/>
<line x1="256.5" y1="478.5" x2="256.5" y2="485.5" stroke="#2a2a2a" stroke-width="1"/>
<line x1="251.3" y1="478.5" x2="261.7" y2="478.5" stroke="#2a2a2a" stroke-width="1"/>
<text x="256.75" y="469.7" font-size="7.6" text-anchor="middle" fill="#fde2b4" stroke="#fde2b4" font-weight="normal"  style="stroke-width:0">a</text>
<text x="256.75" y="494.4" font-size="7.6" text-anchor="middle" fill="#f6fbfe" stroke="#f6fbfe" font-weight="normal"  style="stroke-width:0">b</text>
<line x1="256.75" y1="500.0" x2="256.75" y2="502.5" stroke="#111111" stroke-width="1"/>
<text x="256.75" y="512.6" font-size="7.6" text-anchor="middle" fill="#222" stroke="#222" font-weight="normal"  >Young</text>
<text x="256.75" y="521.75" font-size="7.6" text-anchor="middle" fill="#222" stroke="#222" font-weight="normal"  >WT</text>
<rect x="273.5" y="438" width="20.5" height="62.0" fill="#F28E00"/>
<rect x="273.5" y="473.25" width="20.5" height="26.75" fill="#33A9E0"/>
<line x1="283.5" y1="428.5" x2="283.5" y2="438" stroke="#2a2a2a" stroke-width="1"/>
<line x1="278.3" y1="428.5" x2="288.7" y2="428.5" stroke="#2a2a2a" stroke-width="1"/>
<line x1="283.5" y1="466.5" x2="283.5" y2="473.25" stroke="#2a2a2a" stroke-width="1"/>
<line x1="278.3" y1="466.5" x2="288.7" y2="466.5" stroke="#2a2a2a" stroke-width="1"/>
<text x="283.75" y="446.2" font-size="7.6" text-anchor="middle" fill="#fde2b4" stroke="#fde2b4" font-weight="normal"  style="stroke-width:0">a,c</text>
<text x="283.75" y="482.15" font-size="7.6" text-anchor="middle" fill="#f6fbfe" stroke="#f6fbfe" font-weight="normal"  style="stroke-width:0">b</text>
<line x1="283.75" y1="500.0" x2="283.75" y2="502.5" stroke="#111111" stroke-width="1"/>
<text x="283.75" y="512.6" font-size="7.6" text-anchor="middle" fill="#222" stroke="#222" font-weight="normal"  >Old</text>
<text x="283.75" y="521.75" font-size="7.6" text-anchor="middle" fill="#222" stroke="#222" font-weight="normal"  >WT</text>
<rect x="300.5" y="458.9" width="20.5" height="41.10000000000002" fill="#F28E00"/>
<rect x="300.5" y="475.6" width="20.5" height="24.399999999999977" fill="#33A9E0"/>
<line x1="310.5" y1="449.5" x2="310.5" y2="458.9" stroke="#2a2a2a" stroke-width="1"/>
<line x1="305.3" y1="449.5" x2="315.7" y2="449.5" stroke="#2a2a2a" stroke-width="1"/>
<line x1="310.5" y1="465.5" x2="310.5" y2="475.6" stroke="#2a2a2a" stroke-width="1"/>
<line x1="305.3" y1="465.5" x2="315.7" y2="465.5" stroke="#2a2a2a" stroke-width="1"/>
<text x="310.75" y="463.8" font-size="7.6" text-anchor="middle" fill="#fde2b4" stroke="#fde2b4" font-weight="normal"  style="stroke-width:0">c</text>
<line x1="310.75" y1="500.0" x2="310.75" y2="502.5" stroke="#111111" stroke-width="1"/>
<text x="310.75" y="512.6" font-size="7.6" text-anchor="middle" fill="#222" stroke="#222" font-weight="normal"  >Old</text>
<text x="310.75" y="521.75" font-size="7.6" text-anchor="middle" fill="#222" stroke="#222" font-weight="normal"  >TNF<tspan font-size="5" dy="-2.8">−/−</tspan></text>
<line x1="229.5" y1="389.95" x2="229.5" y2="500.6" stroke="#111111" stroke-width="1.1"/>
<line x1="228.9" y1="500.0" x2="338.0" y2="500.0" stroke="#111111" stroke-width="1.2"/>
<line x1="226.5" y1="392.5" x2="229.5" y2="392.5" stroke="#111111" stroke-width="1"/>
<text x="223.7" y="395.15" font-size="8.0" text-anchor="end" fill="#222" stroke="#222" font-weight="normal"  >8000</text>
<line x1="226.5" y1="419.5" x2="229.5" y2="419.5" stroke="#111111" stroke-width="1"/>
<text x="223.7" y="422.0875" font-size="8.0" text-anchor="end" fill="#222" stroke="#222" font-weight="normal"  >6000</text>
<line x1="226.5" y1="446.5" x2="229.5" y2="446.5" stroke="#111111" stroke-width="1"/>
<text x="223.7" y="449.025" font-size="8.0" text-anchor="end" fill="#222" stroke="#222" font-weight="normal"  >4000</text>
<line x1="226.5" y1="473.5" x2="229.5" y2="473.5" stroke="#111111" stroke-width="1"/>
<text x="223.7" y="475.9625" font-size="8.0" text-anchor="end" fill="#222" stroke="#222" font-weight="normal"  >2000</text>
<line x1="226.5" y1="500.5" x2="229.5" y2="500.5" stroke="#111111" stroke-width="1"/>
<text x="223.7" y="502.9" font-size="8.0" text-anchor="end" fill="#222" stroke="#222" font-weight="normal"  >0</text>
<polyline points="250.5,425 250.5,419.5 281.5,419.5 281.5,425" fill="none" stroke="#444444" stroke-width="1"/>
<text x="266" y="418.7" font-size="7" text-anchor="middle" fill="#222" stroke="#222" font-weight="normal"  >**</text>
<polyline points="281.5,416.75 281.5,411.5 315.5,411.5 315.5,416.25" fill="none" stroke="#444444" stroke-width="1"/>
<text x="298.25" y="410.65" font-size="7" text-anchor="middle" fill="#222" stroke="#222" font-weight="normal"  >*</text>
<text transform="translate(200.3,445) rotate(-90)" font-size="8.6" text-anchor="middle" fill="#111" stroke="#111" textLength="76.2" lengthAdjust="spacingAndGlyphs"><tspan font-weight="bold">Ly6C</tspan><tspan font-size="6" dy="-3">+</tspan><tspan dy="3"> monocytes </tspan><tspan font-weight="bold">TNF MFI</tspan></text>
<text x="282.7" y="536.5" font-size="7.6" text-anchor="middle" fill="#222" stroke="#222" font-weight="normal"  >Int. <tspan font-style="italic">P</tspan> = .04 | Group <tspan font-style="italic">P</tspan> = .001</text>
<rect x="377" y="434.5" width="7" height="7" fill="#33A9E0"/>
<rect x="377" y="448.75" width="7" height="7" fill="#F28E00"/>
<text x="387.5" y="440.4" font-size="7.3" text-anchor="start" fill="#222" stroke="#222" font-weight="normal"  >WT (CD45.1)</text>
<text x="387.5" y="454.4" font-size="7.3" text-anchor="start" fill="#222" stroke="#222" font-weight="normal"  ><tspan font-style="italic">Tet2</tspan><tspan font-size="5" dy="-2.8">−/−</tspan><tspan dy="2.8"> (CD45.2)</tspan></text>
</svg>
</body></html>
